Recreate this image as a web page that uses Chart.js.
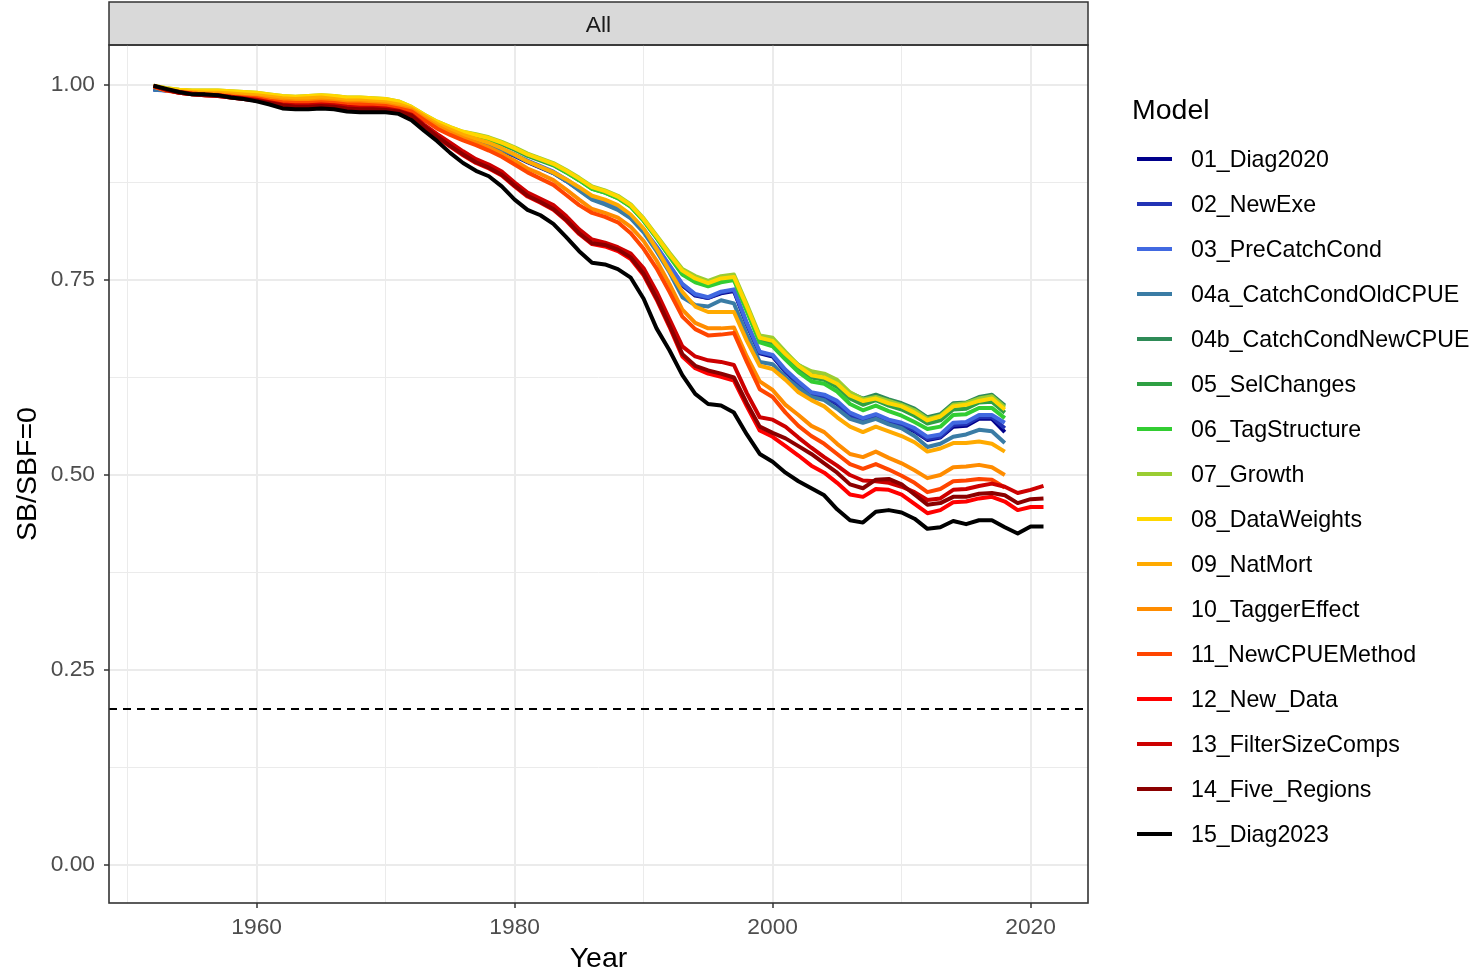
<!DOCTYPE html>
<html>
<head>
<meta charset="utf-8">
<script src="https://cdn.jsdelivr.net/npm/chart.js@4/dist/chart.umd.min.js"></script>
<style>
  body { margin: 0; background: #fff; }
  #wrap { position: relative; width: 1480px; height: 972px; font-family: "Liberation Sans", Arial, sans-serif; }
  #chart { position: absolute; left: 0; top: 0; }
  .strip-label { position: absolute; left: 109px; width: 979px; top: 3px; height: 43px; line-height: 43px;
                 text-align: center; font-size: 22.8px; color: #1A1A1A; }
  .legend-title { position: absolute; left: 1132px; top: 94px; font-size: 28.5px; line-height: 30px; color: #000; }
  .legend-key { position: absolute; left: 1137px; width: 35px; height: 4px; }
  .legend-text { position: absolute; left: 1191px; font-size: 23.2px; line-height: 28px; color: #000; white-space: nowrap; }
</style>
</head>
<body>
<div id="wrap">
  <canvas id="chart" width="1480" height="972"></canvas>
  <div class="strip-label">All</div>
  <div class="legend-title">Model</div>
  <div id="legend"></div>
</div>
<script>
// Years of the assessment time series
const years = [1952,1953,1954,1955,1956,1957,1958,1959,1960,1961,1962,1963,1964,1965,1966,1967,1968,1969,1970,1971,
               1972,1973,1974,1975,1976,1977,1978,1979,1980,1981,1982,1983,1984,1985,1986,1987,1988,1989,1990,1991,
               1992,1993,1994,1995,1996,1997,1998,1999,2000,2001,2002,2003,2004,2005,2006,2007,2008,2009,2010,2011,
               2012,2013,2014,2015,2016,2017,2018,2019,2020,2021];

// Spawning biomass relative to unfished (SB/SBF=0), one array per model run
const diag2020 = [.995,.993,.992,.991,.990,.990,.989,.988,.987,.985,.983,.982,.983,.984,.983,.981,.981,.980,.979,.976,
  .969,.958,.948,.940,.933,.928,.923,.916,.909,.901,.894,.887,.877,.866,.854,.848,.841,.830,.813,.791,.767,
  .743,.730,.727,.733,.736,.693,.656,.652,.632,.617,.603,.600,.591,.576,.569,.575,.568,.564,.556,.545,.548,.562,.563,.572,.572,.555];
const newExe = [.994,.993,.992,.991,.990,.990,.989,.988,.987,.985,.983,.982,.983,.984,.983,.981,.981,.980,.979,.976,
  .969,.958,.948,.941,.934,.929,.924,.917,.910,.902,.895,.888,.878,.867,.855,.849,.842,.831,.814,.792,.768,
  .744,.731,.727,.734,.737,.694,.657,.653,.633,.618,.604,.601,.592,.577,.570,.576,.569,.565,.557,.546,.549,.564,.565,.574,.574,.560];
const preCatchCond = [.994,.994,.993,.992,.991,.991,.990,.989,.988,.986,.984,.983,.984,.985,.984,.982,.982,.981,.980,.977,
  .970,.959,.949,.942,.935,.930,.925,.918,.911,.903,.896,.889,.879,.868,.856,.850,.843,.832,.815,.793,.769,
  .745,.732,.728,.735,.738,.695,.658,.654,.635,.620,.606,.603,.595,.580,.573,.578,.571,.567,.560,.549,.552,.567,.568,.577,.577,.567];
const catchCondOldCPUE = [.994,.994,.993,.992,.991,.991,.990,.989,.988,.986,.984,.983,.984,.985,.984,.982,.982,.981,.980,.977,
  .969,.958,.948,.941,.934,.929,.924,.917,.910,.902,.895,.887,.877,.865,.853,.847,.840,.829,.811,.787,.760,
  .728,.718,.716,.724,.720,.680,.645,.642,.625,.612,.600,.596,.585,.572,.567,.572,.565,.560,.550,.536,.540,.549,.552,.558,.556,.541];
const catchCondNewCPUE = [.998,.995,.993,.992,.992,.992,.991,.990,.989,.987,.985,.984,.985,.986,.985,.983,.983,.982,.981,.978,
  .971,.961,.952,.945,.939,.935,.931,.925,.918,.910,.904,.898,.889,.879,.868,.863,.856,.845,.827,.805,.782,
  .760,.750,.745,.751,.753,.715,.675,.671,.655,.641,.630,.628,.620,.605,.598,.603,.597,.592,.585,.574,.578,.592,.593,.600,.603,.589];
const selChanges = [.998,.995,.993,.992,.992,.992,.991,.990,.989,.987,.985,.984,.985,.986,.985,.983,.983,.982,.981,.978,
  .970,.960,.951,.944,.938,.934,.930,.924,.917,.909,.903,.897,.888,.878,.867,.862,.855,.844,.826,.804,.781,
  .758,.748,.743,.749,.751,.712,.672,.668,.651,.636,.625,.622,.613,.598,.590,.596,.589,.584,.576,.566,.570,.584,.585,.593,.594,.580];
const tagStructure = [.998,.995,.993,.992,.992,.992,.991,.990,.989,.987,.985,.984,.985,.986,.985,.983,.983,.982,.981,.978,
  .971,.961,.952,.945,.939,.935,.931,.926,.919,.911,.905,.898,.888,.878,.867,.862,.855,.844,.826,.804,.780,
  .757,.747,.742,.747,.750,.710,.670,.665,.648,.632,.620,.617,.607,.591,.583,.589,.582,.576,.568,.559,.562,.577,.578,.586,.586,.573];
const growth = [.999,.996,.994,.993,.993,.993,.992,.991,.990,.988,.986,.985,.986,.987,.986,.984,.984,.983,.982,.979,
  .972,.962,.953,.946,.940,.937,.933,.927,.920,.912,.906,.900,.891,.881,.870,.865,.858,.847,.829,.807,.785,
  .764,.755,.749,.755,.757,.719,.679,.676,.658,.641,.633,.630,.622,.606,.597,.600,.595,.590,.583,.572,.576,.590,.592,.598,.601,.587];
const dataWeights = [.999,.996,.994,.993,.993,.993,.992,.991,.990,.988,.986,.985,.986,.987,.986,.984,.984,.983,.982,.979,
  .972,.962,.953,.946,.940,.936,.932,.926,.919,.911,.905,.899,.890,.880,.869,.864,.857,.846,.828,.806,.783,
  .762,.752,.746,.752,.754,.716,.676,.672,.655,.640,.628,.625,.617,.602,.595,.598,.592,.588,.580,.570,.575,.588,.590,.595,.598,.584];
const natMort = [.998,.994,.992,.991,.990,.990,.989,.988,.987,.985,.983,.982,.983,.984,.982,.980,.980,.979,.978,.975,
  .970,.960,.950,.943,.936,.931,.926,.919,.911,.902,.895,.888,.879,.869,.858,.853,.846,.834,.816,.790,.762,
  .735,.716,.709,.709,.709,.672,.640,.636,.622,.606,.596,.588,.574,.562,.555,.562,.556,.550,.542,.530,.534,.541,.541,.543,.540,.530];
const taggerEffect = [.998,.993,.991,.989,.988,.988,.987,.985,.984,.982,.980,.979,.979,.980,.979,.977,.977,.976,.975,.972,
  .968,.957,.947,.939,.932,.926,.920,.912,.903,.893,.886,.878,.866,.853,.841,.836,.830,.818,.800,.775,.745,
  .712,.695,.688,.688,.689,.652,.620,.609,.590,.577,.563,.555,.540,.527,.523,.530,.522,.515,.506,.496,.500,.510,.511,.513,.510,.500];
const newCPUEMethod = [.998,.993,.990,.988,.987,.987,.985,.984,.983,.980,.978,.977,.977,.978,.977,.975,.975,.974,.973,.970,
  .966,.955,.944,.936,.929,.923,.916,.908,.898,.888,.880,.872,.859,.846,.836,.831,.824,.810,.790,.765,.735,
  .703,.687,.679,.680,.682,.645,.610,.600,.580,.563,.550,.540,.527,.514,.508,.514,.507,.499,.490,.478,.482,.492,.493,.495,.494,.484];
const newData = [.999,.994,.990,.988,.987,.986,.984,.982,.980,.977,.973,.971,.971,.972,.971,.968,.966,.966,.967,.965,
  .960,.946,.933,.921,.910,.900,.893,.884,.870,.857,.849,.840,.826,.809,.796,.793,.787,.777,.756,.725,.690,
  .652,.637,.630,.626,.621,.588,.557,.549,.537,.525,.512,.503,.490,.475,.472,.482,.481,.475,.463,.451,.455,.465,.466,.470,.472,.466,.455,.459,.459];
const filterSizeComps = [.999,.994,.991,.989,.988,.987,.985,.983,.981,.978,.975,.974,.974,.975,.974,.972,.971,.971,.970,.967,
  .962,.949,.937,.926,.915,.905,.898,.889,.875,.862,.854,.846,.832,.815,.802,.798,.792,.784,.765,.735,.700,
  .665,.652,.647,.645,.641,.605,.574,.571,.562,.548,.535,.523,.512,.500,.493,.492,.490,.485,.478,.468,.470,.481,.482,.486,.489,.485,.477,.481,.486];
const fiveRegions = [.999,.994,.990,.988,.987,.986,.984,.982,.980,.977,.974,.972,.972,.973,.972,.970,.969,.969,.968,.966,
  .961,.947,.934,.922,.911,.901,.894,.885,.871,.858,.850,.841,.827,.810,.797,.795,.789,.779,.758,.727,.692,
  .655,.640,.634,.630,.625,.592,.562,.554,.547,.537,.527,.515,.503,.488,.483,.494,.495,.488,.475,.462,.464,.472,.472,.476,.477,.474,.464,.469,.470];
const diag2023 = [.999,.995,.991,.988,.988,.987,.984,.982,.979,.975,.970,.969,.969,.970,.969,.966,.965,.965,.965,.963,
  .955,.941,.928,.913,.900,.890,.883,.870,.853,.840,.833,.822,.805,.787,.772,.770,.764,.753,.726,.688,.660,
  .628,.604,.591,.589,.580,.552,.527,.517,.503,.492,.483,.474,.456,.442,.439,.453,.455,.452,.444,.431,.433,.441,.437,.442,.442,.433,.425,.434,.434];

const modelNames = ['01_Diag2020','02_NewExe','03_PreCatchCond','04a_CatchCondOldCPUE','04b_CatchCondNewCPUE',
  '05_SelChanges','06_TagStructure','07_Growth','08_DataWeights','09_NatMort','10_TaggerEffect',
  '11_NewCPUEMethod','12_New_Data','13_FilterSizeComps','14_Five_Regions','15_Diag2023'];
const modelSeries = [diag2020,newExe,preCatchCond,catchCondOldCPUE,catchCondNewCPUE,selChanges,tagStructure,
  growth,dataWeights,natMort,taggerEffect,newCPUEMethod,newData,filterSizeComps,fiveRegions,diag2023];
const modelColors = ['#00008B','#2233B5','#4169E1','#3A7CA5','#2E8B57','#2EA043','#32CD32','#9ACD32',
  '#FFD700','#FFAA00','#FF8C00','#FF4500','#FF0000','#CD0000','#8B0000','#000000'];

// Axis ticks (major ones carry labels) and the reference level
const xTicks = [1950,1960,1970,1980,1990,2000,2010,2020];
const xLabelled = [1960,1980,2000,2020];
const yTicks = [0,0.125,0.25,0.375,0.5,0.625,0.75,0.875,1.0];
const yLabelled = [0,0.25,0.5,0.75,1.0];
const refLevel = 0.2;
const xRange = [1948.55, 2024.45];
const yRange = [-0.0487, 1.0513];

const FONT = '"Liberation Sans", Arial, sans-serif';
const isLabelled = (list, v) => list.some(t => Math.abs(t - v) < 1e-9);

const datasets = modelSeries.map((vals, i) => ({
  label: modelNames[i],
  data: vals.map((v, k) => ({ x: years[k], y: v })),
  borderColor: modelColors[i],
  backgroundColor: modelColors[i],
  borderWidth: 4,
  pointRadius: 0,
  tension: 0,
  fill: false,
  borderJoinStyle: 'round',
  order: modelSeries.length - i
}));
datasets.push({
  label: 'ref',
  data: [{ x: xRange[0], y: refLevel }, { x: xRange[1], y: refLevel }],
  borderColor: '#000',
  borderWidth: 2,
  borderDash: [8, 6],
  pointRadius: 0,
  fill: false,
  order: -1
});

// Facet strip and panel border
const framePlugin = {
  id: 'frame',
  beforeDraw(chart) {
    const { ctx, chartArea: a } = chart;
    ctx.save();
    ctx.fillStyle = '#D9D9D9';
    ctx.fillRect(a.left, 2, a.right - a.left, a.top - 2);
    ctx.strokeStyle = '#333333';
    ctx.lineWidth = 1.5;
    ctx.strokeRect(a.left, 2, a.right - a.left, a.top - 2);
    ctx.restore();
  },
  afterDatasetsDraw(chart) {
    const { ctx, chartArea: a } = chart;
    ctx.save();
    ctx.strokeStyle = '#333333';
    ctx.lineWidth = 1.6;
    ctx.strokeRect(a.left, a.top, a.right - a.left, a.bottom - a.top);
    ctx.restore();
  }
};

new Chart(document.getElementById('chart'), {
  type: 'line',
  data: { datasets },
  plugins: [framePlugin],
  options: {
    responsive: false,
    animation: false,
    layout: { padding: { top: 45, right: 392, left: 0, bottom: 0 } },
    plugins: { legend: { display: false }, tooltip: { enabled: false } },
    scales: {
      x: {
        type: 'linear',
        min: xRange[0], max: xRange[1],
        afterBuildTicks(s) { s.ticks = xTicks.map(v => ({ value: v })); },
        afterFit(s) { s.height = 69; },
        ticks: {
          autoSkip: false, maxRotation: 0, padding: 6,
          color: '#4D4D4D', font: { family: FONT, size: 22.8 },
          callback: v => isLabelled(xLabelled, v) ? String(v) : ''
        },
        grid: {
          color: '#EBEBEB',
          lineWidth: c => isLabelled(xLabelled, c.tick.value) ? 2 : 1,
          tickLength: 5,
          tickWidth: 1.5,
          tickColor: c => isLabelled(xLabelled, c.tick.value) ? '#333333' : 'rgba(0,0,0,0)'
        },
        border: { display: false },
        title: { display: true, text: 'Year', color: '#000', font: { family: FONT, size: 28.5, lineHeight: 1 }, padding: { top: 0, bottom: -1 } }
      },
      y: {
        type: 'linear',
        min: yRange[0], max: yRange[1],
        afterBuildTicks(s) { s.ticks = yTicks.map(v => ({ value: v })); },
        afterFit(s) { s.width = 109; },
        ticks: {
          autoSkip: false, padding: 9,
          color: '#4D4D4D', font: { family: FONT, size: 22.8 },
          callback: v => isLabelled(yLabelled, v) ? v.toFixed(2) : ''
        },
        grid: {
          color: '#EBEBEB',
          lineWidth: c => isLabelled(yLabelled, c.tick.value) ? 2 : 1,
          tickLength: 5,
          tickWidth: 1.5,
          tickColor: c => isLabelled(yLabelled, c.tick.value) ? '#333333' : 'rgba(0,0,0,0)'
        },
        border: { display: false },
        title: { display: true, text: 'SB/SBF=0', color: '#000', font: { family: FONT, size: 28.5, lineHeight: 1 }, padding: { top: 14, bottom: 0 } }
      }
    }
  }
});

// Legend for the model runs
const legend = document.getElementById('legend');
modelNames.forEach((name, i) => {
  const cy = 159 + 45 * i;
  const key = document.createElement('div');
  key.className = 'legend-key';
  key.style.top = (cy - 2) + 'px';
  key.style.background = modelColors[i];
  const txt = document.createElement('div');
  txt.className = 'legend-text';
  txt.style.top = (cy - 14) + 'px';
  txt.textContent = name;
  legend.appendChild(key);
  legend.appendChild(txt);
});
</script>
</body>
</html>
